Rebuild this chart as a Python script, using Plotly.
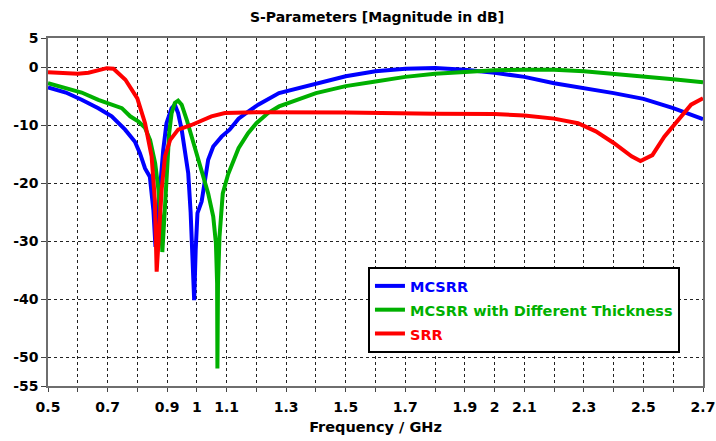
import plotly.graph_objects as go

title = "S-Parameters [Magnitude in dB]"
x_title = "Frequency / GHz"

mcsrr_f = [0.5, 0.56, 0.613, 0.669, 0.714, 0.759, 0.792, 0.809, 0.826, 0.842, 0.854, 0.861, 0.868, 0.876,
           0.887, 0.898, 0.915, 0.926, 0.937, 0.949, 0.96, 0.971, 0.979, 0.985, 0.991, 0.996, 1.002,
           1.016, 1.027, 1.038, 1.055, 1.083, 1.11, 1.14, 1.17, 1.206, 1.276, 1.4, 1.5, 1.6, 1.7, 1.8,
           1.9, 2.0, 2.1, 2.2, 2.3, 2.4, 2.5, 2.6, 2.7]
mcsrr_db = [-3.5, -4.4, -5.65, -7.1, -8.5, -10.8, -12.9, -14.9, -17.5, -18.9, -24.7, -31, -26, -20,
            -14.3, -9.7, -7.1, -6.5, -7.95, -10.8, -14.3, -18.3, -25, -34.5, -40.2, -31.6, -25.2,
            -23.2, -20, -16, -13.7, -12, -10.8, -8.9, -7.8, -6.5, -4.5, -2.8, -1.6, -0.75, -0.3, -0.17,
            -0.46, -1.0, -1.7, -2.8, -3.6, -4.5, -5.5, -7.1, -9.0]

thick_f = [0.5, 0.56, 0.613, 0.669, 0.714, 0.748, 0.776, 0.804, 0.826, 0.843, 0.86, 0.871, 0.88, 0.884,
           0.891, 0.898, 0.907, 0.915, 0.926, 0.937, 0.949, 0.966, 0.988, 1.016, 1.038, 1.055, 1.064,
           1.068, 1.069, 1.071, 1.076, 1.087, 1.105, 1.14, 1.172, 1.2, 1.24, 1.276, 1.4, 1.5, 1.6, 1.7,
           1.8, 1.9, 2.0, 2.1, 2.2, 2.3, 2.4, 2.5, 2.6, 2.7]
thick_db = [-2.8, -3.6, -4.4, -5.65, -6.5, -7.1, -8.5, -9.4, -10.5, -12.6, -16.6, -21.2, -27, -31.9,
            -25.8, -18.9, -11.4, -8, -6.2, -5.8, -6.5, -9.1, -13.1, -17.8, -21.8, -25.8, -30.4,
            -37.3, -52, -37.3, -29.3, -21.8, -18.5, -14, -11.4, -9.7, -7.9, -6.8, -4.5, -3.3, -2.5, -1.7,
            -1.15, -0.8, -0.58, -0.46, -0.46, -0.75, -1.15, -1.6, -2.1, -2.65]

srr_f = [0.5, 0.55, 0.6, 0.636, 0.67, 0.697, 0.72, 0.76, 0.8, 0.826, 0.848, 0.859, 0.865, 0.873, 0.882,
         0.893, 0.91, 0.937, 0.982, 1.049, 1.094, 1.2, 1.5, 1.8, 2.0, 2.1, 2.2, 2.28, 2.34, 2.4, 2.46,
         2.49, 2.53, 2.57, 2.63, 2.66, 2.7]
srr_db = [-0.9, -1.0, -1.15, -1.0, -0.5, -0.2, -0.3, -2.2, -5.4, -9.7, -15.4, -23, -35.3, -29, -21,
          -15.4, -12.6, -10.8, -10, -8.5, -7.95, -7.8, -7.84, -8.07, -8.1, -8.36, -8.9, -9.7, -11.1, -13.1, -15.4,
          -16.2, -15.2, -12, -8.2, -6.5, -5.4]

series_names = ["MCSRR", "MCSRR with Different Thickness", "SRR"]
series_colors = ["#0000FF", "#00B000", "#FF0000"]

x_grid = [round(0.5 + 0.1 * i, 1) for i in range(23)]
x_labelled = [0.5, 0.7, 0.9, 1.0, 1.1, 1.3, 1.5, 1.7, 1.9, 2.0, 2.1, 2.3, 2.5, 2.7]
x_text = [("<b>%g</b>" % v) if v in x_labelled else "" for v in x_grid]
y_ticks = [5, 0, -10, -20, -30, -40, -50, -55]

FONT = "DejaVu Sans"

fig = go.Figure()
for f, d, n, c in [(mcsrr_f, mcsrr_db, series_names[0], series_colors[0]),
                   (thick_f, thick_db, series_names[1], series_colors[1]),
                   (srr_f, srr_db, series_names[2], series_colors[2])]:
    fig.add_trace(go.Scatter(
        x=f, y=d, mode="lines", line=dict(color=c, width=4),
        name='<span style="font-size:14.5px;color:%s"><b>%s</b></span>' % (c, n),
    ))

fig.update_layout(
    width=716, height=441,
    margin=dict(l=48, r=13, t=38, b=55),
    paper_bgcolor="white", plot_bgcolor="white",
    font=dict(family=FONT, size=14, color="black"),
    title=dict(text="<b>%s</b>" % title, x=0.5266, xanchor="center", y=0.962, yanchor="middle",
               font=dict(size=14, family=FONT)),
    showlegend=True,
    legend=dict(x=0.4885, y=0.342, xanchor="left", yanchor="top",
                bordercolor="black", borderwidth=2, bgcolor="white",
                font=dict(size=16, family=FONT), itemwidth=30, tracegroupgap=0),
    xaxis=dict(range=[0.5, 2.7], tickmode="array", tickvals=x_grid, ticktext=x_text,
               showgrid=True, gridcolor="#222222", griddash="3px,3px", gridwidth=1,
               showline=True, linecolor="#6e6e6e", linewidth=1.5, mirror=True,
               ticks="outside", ticklen=4, tickcolor="#444444", zeroline=False, automargin=False,
               ticklabelstandoff=3,
               tickfont=dict(size=14, family=FONT),
               title=dict(text="<b>%s</b>" % x_title, font=dict(size=14.5, family=FONT), standoff=8)),
    yaxis=dict(range=[-55, 5], tickmode="array", tickvals=y_ticks,
               ticktext=["<b>%d</b>" % v for v in y_ticks],
               showgrid=True, gridcolor="#222222", griddash="3px,3px", gridwidth=1,
               showline=True, linecolor="#6e6e6e", linewidth=1.5, mirror=True,
               ticks="outside", ticklen=5, tickcolor="#444444", zeroline=False, automargin=False,
               tickfont=dict(size=14, family=FONT)),
)
fig.write_html("out.html")
